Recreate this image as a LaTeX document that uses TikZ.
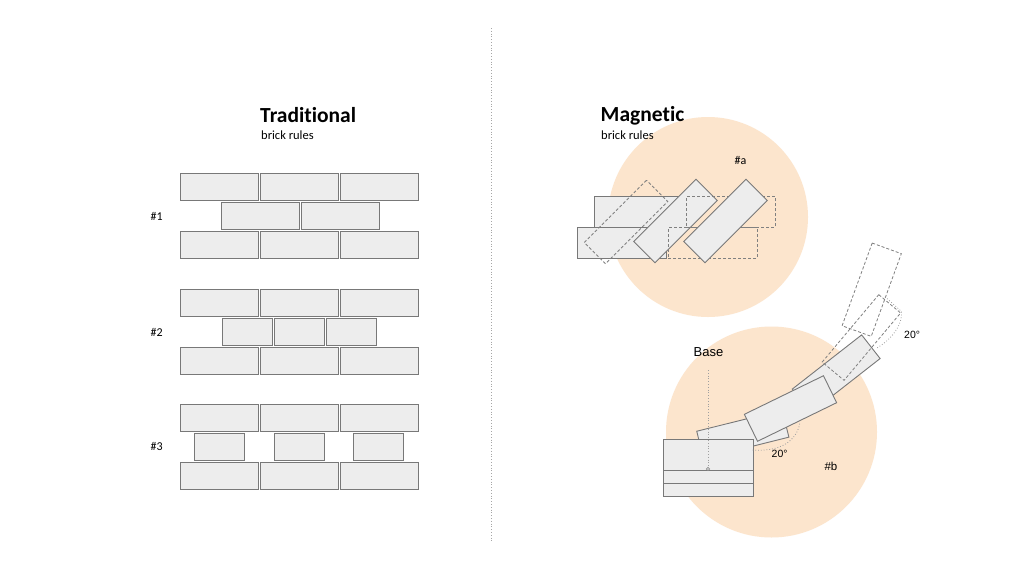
\documentclass[tikz,border=0pt]{standalone}
\usepackage{fontspec}
\setmainfont{Carlito}[Ligatures={NoCommon,NoRequired,NoContextual}]
\newfontfamily\arialf{Liberation Sans}
\definecolor{peach}{HTML}{FCE5CD}
\definecolor{brickfill}{HTML}{EDEDED}
\definecolor{brickline}{HTML}{787878}
\definecolor{ghostline}{HTML}{808080}
\begin{document}
\begin{tikzpicture}[x=1pt,y=-1pt,
  brick/.style={draw=brickline, fill=brickfill, line width=0.9pt, inner sep=0pt, outer sep=0pt, rectangle},
  ghost/.style={draw=ghostline, dash pattern=on 3pt off 2pt, line width=0.8pt, inner sep=0pt, outer sep=0pt, rectangle},
  guide/.style={draw=gray!75, dotted, line width=0.8pt},
  lbl/.style={inner sep=0pt, anchor=base west, text=black},
  zone/.style={circle, fill=peach, inner sep=0pt}]
\useasboundingbox (0,0) rectangle (1024,576);
\fill[white] (0,0) rectangle (1024,576);

% divider
\coordinate (divtop) at (491,28);
\coordinate (divbot) at (491,543);
\draw[guide, gray!70] (divtop) -- (divbot);

% ---------- Traditional ----------
\node[lbl, font=\fontsize{21.5}{24}\selectfont\bfseries] (ttitle) at (260,122.7) {Traditional};
\node[lbl, font=\fontsize{12.5}{14}\selectfont] (tsub) at (261,139.3) {brick rules};

\foreach \gy/\g in {186.5/1, 302.5/2, 417.5/3}{
  \foreach \cx/\c in {219/a, 299/b, 379/c}{
    \node[brick, minimum width=78pt, minimum height=27pt] (g\g top\c) at (\cx,\gy) {};
    \node[brick, minimum width=78pt, minimum height=27pt] (g\g bot\c) at (\cx,\gy+58) {};
  }
}
% middle rows
\node[brick, minimum width=78pt, minimum height=27pt] (g1mida) at (260,215.5) {};
\node[brick, minimum width=78pt, minimum height=27pt] (g1midb) at (340,215.5) {};
\foreach \cx/\c in {247/a, 299/b, 351/c}
  \node[brick, minimum width=50pt, minimum height=27pt] (g2mid\c) at (\cx,331.5) {};
\foreach \cx/\c in {219/a, 299/b, 378.5/c}
  \node[brick, minimum width=50pt, minimum height=27pt] (g3mid\c) at (\cx,446.5) {};

\node[lbl, font=\fontsize{12}{13}\selectfont] (n1) at (150.5,220.7) {\#1};
\node[lbl, font=\fontsize{12}{13}\selectfont] (n2) at (150.5,336) {\#2};
\node[lbl, font=\fontsize{12}{13}\selectfont] (n3) at (150.5,450.7) {\#3};

% ---------- Magnetic ----------
\node[zone, minimum size=200pt] (zoneA) at (708,217) {};
\node[zone, minimum size=211pt] (zoneB) at (771.5,432) {};

\node[lbl, font=\fontsize{21.5}{24}\selectfont\bfseries] (mtitle) at (600.5,121.7) {Magnetic};
\node[lbl, font=\fontsize{12.5}{14}\selectfont] (msub) at (601,139) {brick rules};
\node[lbl, font=\fontsize{12}{13}\selectfont] (la) at (734.5,164) {\#a};

% #a bricks
\node[brick, minimum width=89pt, minimum height=30.5pt] (mh1) at (638.5,211.9) {};
\node[brick, minimum width=89pt, minimum height=30.5pt] (mh2) at (621.5,242.8) {};
\node[ghost, minimum width=88pt, minimum height=30pt, rotate=45] (md1) at (626,222) {};
\node[brick, minimum width=88pt, minimum height=30pt, rotate=45] (mr1) at (675.5,221) {};
\node[ghost, minimum width=89pt, minimum height=30.5pt] (mdh1) at (730.5,212) {};
\node[ghost, minimum width=89pt, minimum height=30.5pt] (mdh2) at (712.8,242.8) {};
\node[brick, minimum width=88pt, minimum height=30pt, rotate=45] (mr2) at (725.5,221) {};

% #b bricks
\node[brick, minimum width=88pt, minimum height=28pt, rotate=14] (b1) at (742.8,434.2) {};
\node[brick, minimum width=90pt, minimum height=31pt] (base1) at (708,454.5) {};
\node[brick, minimum width=90pt, minimum height=13pt] (base2) at (708,476.5) {};
\node[brick, minimum width=90pt, minimum height=13pt] (base3) at (708,489.5) {};
\node[brick, minimum width=88pt, minimum height=30pt, rotate=38] (b3) at (836.2,373.8) {};
\node[brick, minimum width=88pt, minimum height=30pt, rotate=26] (b2) at (790.5,408.5) {};
\node[ghost, minimum width=88pt, minimum height=28.5pt, rotate=50] (dB) at (861.4,337.5) {};
\node[ghost, minimum width=88pt, minimum height=31pt, rotate=70] (dA) at (871.7,289.7) {};

% base guide
\node[circle, draw=gray!90, line width=0.6pt, minimum size=3.2pt, inner sep=0pt] (pivot) at (708,469) {};
\coordinate (guidetop) at (708,370);
\draw[guide] (guidetop) -- (pivot.north);
\node[lbl, font=\arialf\fontsize{13}{15}\selectfont] (lbase) at (693.5,356.7) {Base};

% angle arcs
\coordinate (arcAs) at (885,296.7);
\coordinate (arcAm) at (901.5,311.5);
\coordinate (arcAe) at (876,348.5);
\draw[guide] (arcAs) -- (arcAm) .. controls (903,325) and (891,340) .. (arcAe);
\coordinate (arcBs) at (752.5,450);
\coordinate (arcBe) at (800,422);
\draw[guide] (arcBs) .. controls (779,452) and (797,442) .. (arcBe);

\node[lbl, font=\arialf\fontsize{10.5}{12}\selectfont] (ang1) at (904,338.3) {20\textdegree};
\node[lbl, font=\arialf\fontsize{10.5}{12}\selectfont] (ang2) at (771.5,457.7) {20\textdegree};
\node[lbl, font=\arialf\fontsize{11.5}{13}\selectfont] (lb) at (824.3,470) {\#b};
\end{tikzpicture}
\end{document}
